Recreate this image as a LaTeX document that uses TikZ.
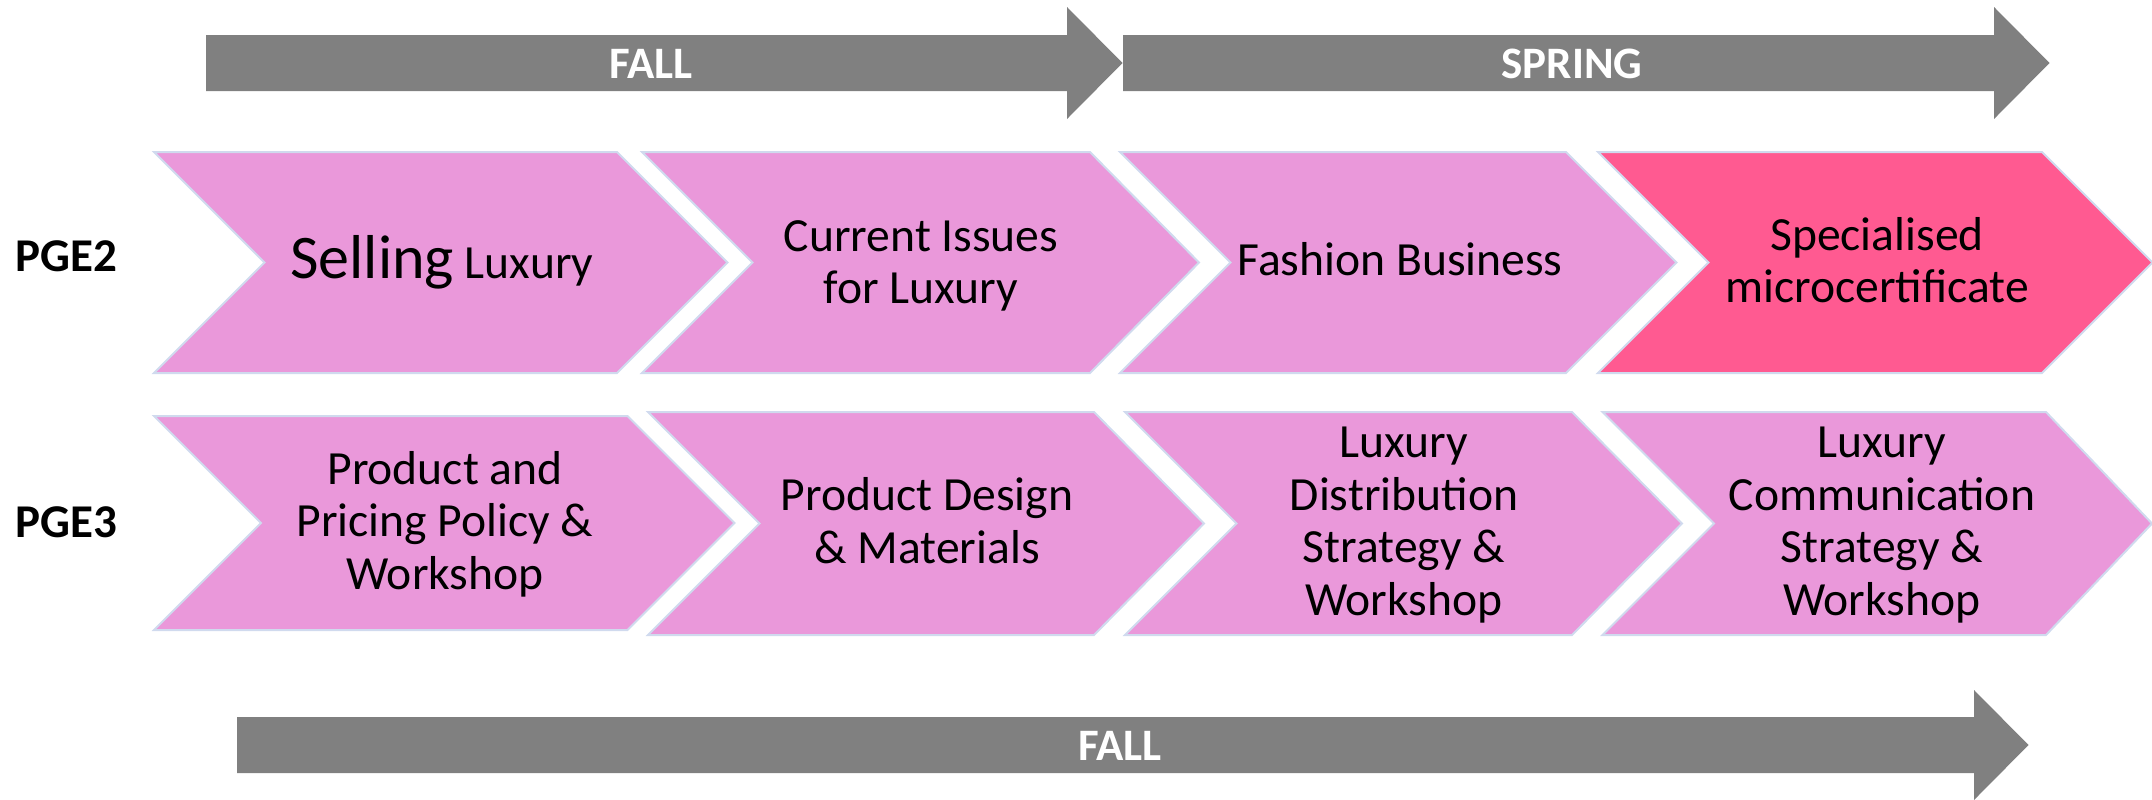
\documentclass[tikz,border=0pt]{standalone}
\usepackage{fontspec}
\setmainfont{Carlito}
\usepackage{xcolor}
\usepackage{tikz}

\definecolor{chevpink}{RGB}{234,152,218}
\definecolor{certpink}{RGB}{255,90,145}
\definecolor{termgray}{RGB}{128,128,128}
\definecolor{chevedge}{RGB}{208,218,238}

\begin{document}
\begin{tikzpicture}[x=0.5pt, y=-0.5pt,
  chev/.style={fill=chevpink, draw=chevedge, line width=1pt},
  cert/.style={fill=certpink, draw=chevedge, line width=1pt},
  term/.style={fill=termgray},
  termtext/.style={text=white, inner sep=0pt, font=\fontsize{22.5}{26}\selectfont\bfseries},
  rowlabel/.style={inner sep=0pt, font=\fontsize{23.5}{27}\selectfont\bfseries},
  course/.style={align=center, inner sep=0pt, font=\fontsize{23.8}{26.25}\selectfont}]
\useasboundingbox (0,0) rectangle (2152,799);

% semester arrows
\fill[term] (206,35) -- (1067,35) -- (1067,7) -- (1122.5,63) -- (1067,119) -- (1067,91) -- (206,91) -- cycle;
\fill[term] (1123,35) -- (1994,35) -- (1994,7) -- (2049.5,63) -- (1994,119) -- (1994,91) -- (1123,91) -- cycle;
\fill[term] (237,717) -- (1974,717) -- (1974,690) -- (2028.5,745) -- (1974,800) -- (1974,773) -- (237,773) -- cycle;

\node[termtext] (fallTop) at (651,64) {FALL};
\node[termtext] (spring) at (1572,64) {SPRING};
\node[termtext] (fallBottom) at (1120,746) {FALL};

% PGE2 row
\fill[chev] (154,152) -- (617,152) -- (727.5,262.5) -- (617,373) -- (154,373) -- (264.5,262.5) -- cycle;
\fill[chev] (642,152) -- (1090,152) -- (1199,262.5) -- (1090,373) -- (642,373) -- (752.5,262.5) -- cycle;
\fill[chev] (1120,152) -- (1566,152) -- (1676.5,262.5) -- (1566,373) -- (1120,373) -- (1230.5,262.5) -- cycle;
\fill[cert] (1598,152) -- (2042,152) -- (2152.5,262.5) -- (2042,373) -- (1598,373) -- (1708.5,262.5) -- cycle;

\node[rowlabel] (pgeTwo) at (66,256) {PGE2};
\node[course] (selling) at (442,262) {{\fontsize{31}{35}\selectfont Selling} Luxury};
\node[course] (issues) at (921,266) {Current Issues\\for Luxury};
\node[course] (fashion) at (1400,259) {Fashion Business};
\node[course] (microcert) at (1877,260) {Specialised\\microcertificate};

% PGE3 row
\fill[chev] (154,416) -- (627.5,416) -- (734.5,523) -- (627.5,630) -- (154,630) -- (261,523) -- cycle;
\fill[chev] (648,412) -- (1094,412) -- (1204,523.5) -- (1094,635) -- (648,635) -- (759.5,523.5) -- cycle;
\fill[chev] (1125,412) -- (1572,412) -- (1682,523.5) -- (1572,635) -- (1125,635) -- (1236.5,523.5) -- cycle;
\fill[chev] (1602.5,412) -- (2046,412) -- (2152,523.5) -- (2046,635) -- (1602.5,635) -- (1714,523.5) -- cycle;

\node[rowlabel] (pgeThree) at (66,522) {PGE3};
\node[course] (pricing) at (445,524) {Product and\\Pricing Policy \&\\Workshop};
\node[course] (design) at (927,520.5) {Product Design\\\& Materials};
\node[course] (distribution) at (1404,525) {Luxury\\Distribution\\Strategy \&\\Workshop};
\node[course] (communication) at (1882,525) {Luxury\\Communication\\Strategy \&\\Workshop};
\end{tikzpicture}
\end{document}
